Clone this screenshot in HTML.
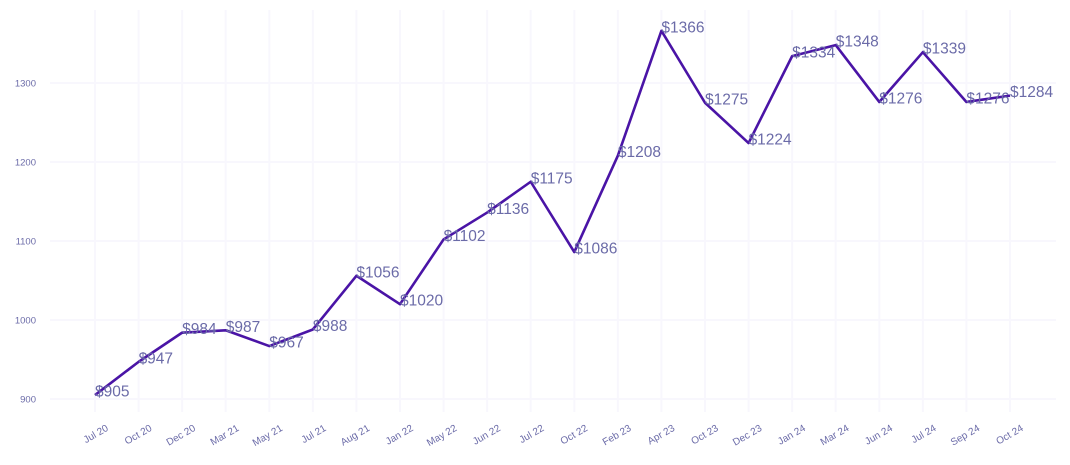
<!DOCTYPE html>
<html><head><meta charset="utf-8"><style>
body{margin:0;background:#fff;}
svg{display:block;font-family:"Liberation Sans",sans-serif;}
</style></head><body>
<svg id="chart" width="1070" height="465" xmlns="http://www.w3.org/2000/svg">
<g id="grid"></g>
<g id="yaxis"></g>
<g id="xaxis"></g>
<path id="line" fill="none" stroke="#4a14a6" stroke-width="2.6" stroke-linejoin="round"/>
<g id="labels"></g>
</svg>
<script>
const categories=["Jul 20","Oct 20","Dec 20","Mar 21","May 21","Jul 21","Aug 21","Jan 22","May 22","Jun 22","Jul 22","Oct 22","Feb 23","Apr 23","Oct 23","Dec 23","Jan 24","Mar 24","Jun 24","Jul 24","Sep 24","Oct 24"];
const values=[905,947,984,987,967,988,1056,1020,1102,1136,1175,1086,1208,1366,1275,1224,1334,1348,1276,1339,1276,1284];
const yTicks=[900,1000,1100,1200,1300];
const NS="http://www.w3.org/2000/svg";
const x0=95,x1=1010;
function xs(i){return x0+(x1-x0)*i/(categories.length-1);}
function ys(v){return 399-(v-900)*0.79;}
function mk(t,a,p){const e=document.createElementNS(NS,t);for(const k in a)e.setAttribute(k,a[k]);p.appendChild(e);return e;}
const grid=document.getElementById('grid'),ya=document.getElementById('yaxis'),xa=document.getElementById('xaxis'),lb=document.getElementById('labels');
yTicks.forEach(v=>{
 const l=mk('line',{x1:50,x2:1056,y1:ys(v),y2:ys(v),stroke:'#f8f7fd','stroke-width':2},grid);
 
 
 const t=mk('text',{x:36,y:ys(v)+3.5,'text-anchor':'end','font-size':9.5,fill:'#6b6ba8'},ya);
 t.textContent=v;
 
 
});
categories.forEach((c,i)=>{
 const l=mk('line',{x1:xs(i),x2:xs(i),y1:10,y2:412,stroke:'#f8f7fd','stroke-width':2},grid);
 
 
 const t=mk('text',{x:xs(i)+14,y:430,'text-anchor':'end','font-size':10,fill:'#6b6ba8',transform:'rotate(-30 '+(xs(i)+14)+' 430)'},xa);
 t.textContent=c;
 
 
});
document.getElementById('line').setAttribute('d',values.map((v,i)=>(i?'L':'M')+xs(i)+','+ys(v)).join(''));
values.forEach((v,i)=>{
 const t=mk('text',{x:xs(i),y:ys(v)+1.5,'font-size':15.5,fill:'#6b6ba8'},lb);
 t.textContent='$'+v;
 
 
});
</script>
</body></html>
